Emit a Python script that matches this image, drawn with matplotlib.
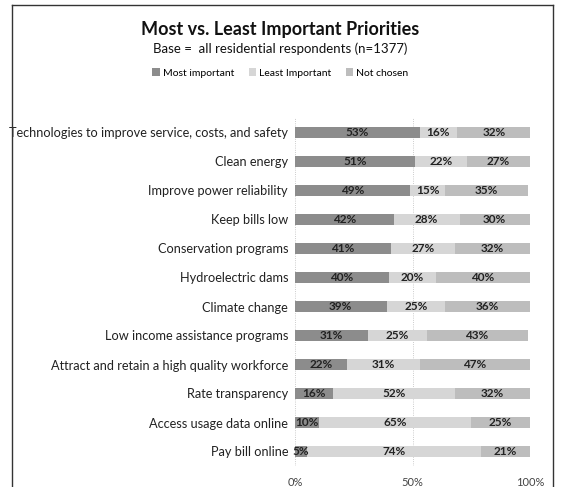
import matplotlib.pyplot as plt
from matplotlib.lines import Line2D
import numpy as np

plt.rcParams['font.family'] = ['Lato', 'DejaVu Sans']

categories = [
    'Technologies to improve service, costs, and safety',
    'Clean energy',
    'Improve power reliability',
    'Keep bills low',
    'Conservation programs',
    'Hydroelectric dams',
    'Climate change',
    'Low income assistance programs',
    'Attract and retain a high quality workforce',
    'Rate transparency',
    'Access usage data online',
    'Pay bill online',
]
most = [53, 51, 49, 42, 41, 40, 39, 31, 22, 16, 10, 5]
least = [16, 22, 15, 28, 27, 20, 25, 25, 31, 52, 65, 74]
not_chosen = [32, 27, 35, 30, 32, 40, 36, 43, 47, 32, 25, 21]

series = [
    ('Most important', most, '#8c8c8c'),
    ('Least Important', least, '#d6d6d6'),
    ('Not chosen', not_chosen, '#bdbdbd'),
]

W, H = 561, 487
fig = plt.figure(figsize=(W / 100, H / 100), dpi=100)
ax = fig.add_axes([295 / W, 1 - 466 / H, 235 / W, (466 - 118) / H])

y = np.arange(len(categories))
left = np.zeros(len(categories))
for name, vals, col in series:
    vals = np.array(vals, dtype=float)
    ax.barh(y, vals, left=left, height=0.4, color=col, label=name, zorder=2)
    for yi, l, v in zip(y, left, vals):
        ax.text(l + v / 2, yi, f'{int(v)}%', ha='center', va='center',
                fontsize=8.5, fontweight='bold', color='#222222', zorder=3)
    left += vals

ax.set_ylim(len(categories) - 0.5, -0.5)
ax.set_xlim(0, 100)
ax.set_yticks(y)
ax.set_yticklabels(categories, fontsize=9.2, color='#222222')
ax.set_xticks([0, 50, 100])
ax.set_xticklabels(['0%', '50%', '100%'], fontsize=8, color='#444444')
ax.tick_params(length=0, pad=5)
ax.tick_params(axis='x', pad=8)
for s in ax.spines.values():
    s.set_visible(False)
for xv in [0, 50, 100]:
    ax.axvline(xv, color='#bbbbbb', lw=0.6, ls=':', zorder=1)

fig.text(0.5, 1 - 30 / H, 'Most vs. Least Important Priorities', ha='center', va='center',
         fontsize=13, fontweight='bold', color='#111111')
fig.text(0.5, 1 - 49 / H, 'Base =  all residential respondents (n=1377)', ha='center',
         va='center', fontsize=9.5, color='#111111')
fig.legend(loc='center', bbox_to_anchor=(0.5, 1 - 73 / H), ncol=3, frameon=False,
           fontsize=7.5, handlelength=0.7, handleheight=0.7, handletextpad=0.3,
           columnspacing=1.4)

# frame around the chart
fig.add_artist(Line2D([12 / W, 12 / W], [0, 1 - 5 / H], color='#333333', lw=1.0))
fig.add_artist(Line2D([553 / W, 553 / W], [0, 1 - 5 / H], color='#333333', lw=1.0))
fig.add_artist(Line2D([12 / W, 553 / W], [1 - 5 / H, 1 - 5 / H], color='#333333', lw=1.0))

fig.savefig('out.png', dpi=100)
